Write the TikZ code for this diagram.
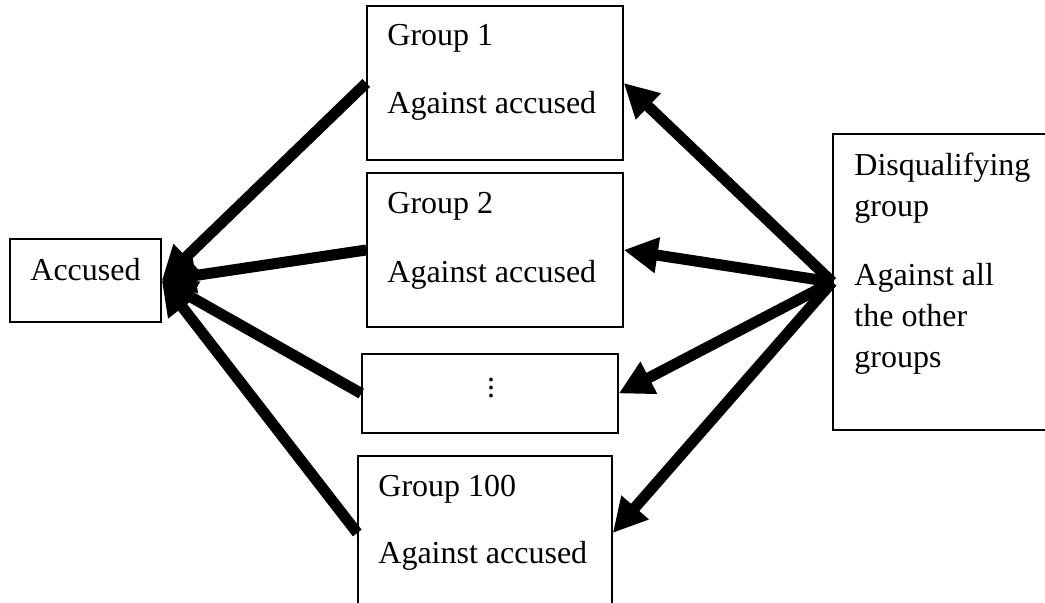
\documentclass[tikz,border=0pt]{standalone}
\usepackage{fontspec}
\setmainfont{Liberation Serif}
\usetikzlibrary{arrows.meta, positioning}

\begin{document}
\begin{tikzpicture}[
    x=0.5pt, y=-0.5pt,
    box/.style={rectangle, draw, line width=0.75pt, inner sep=0pt},
    grpbox/.style={box, minimum width=128pt, minimum height=77pt},
    txt/.style={inner sep=0pt, align=left, anchor=north west, font=\fontsize{16}{20.5}\selectfont},
    arrow/.style={line width=5.5pt, -{Triangle[length=17pt, width=17pt]}}
]
\useasboundingbox (0,0) rectangle (1045,603);

% ---------- boxes ----------
\node (accused) [box, minimum width=75.5pt, minimum height=41.5pt,
      text height=11pt, text depth=11pt, font=\fontsize{16}{20.5}\selectfont] at (85.5,280.5) {Accused};

\node (grpone) [grpbox] at (495,83) {};
\node (grptwo) [grpbox] at (495,250) {};
\node (grpdots) [box, minimum width=128pt, minimum height=39.5pt] at (490,393.5) {};
\node (grplast) [grpbox, minimum width=127pt] at (485,533) {};
\node (disq) [box, minimum width=108.5pt, minimum height=148pt] at (941.5,282) {};

% ---------- texts ----------
\node (grponetxt) [txt] at (387,24) {Group 1\\[13.5pt]Against accused};
\node (grptwotxt) [txt] at (387,192) {Group 2\\[14pt]Against accused};
\node (grplasttxt) [txt] at (378,475) {Group 100\\[13pt]Against accused};
\node (dots) [inner sep=0pt, font=\fontsize{16}{20.5}\selectfont] at (491,382) {$\vdots$};
\node (disqtxt) [txt] at (854,153) {Disqualifying\\group\\[14pt]Against all\\the other\\groups};

% ---------- arrows to accused ----------
\draw [arrow] (grpone.west) -- (accused.east);
\draw [arrow] (grptwo.west) -- (accused.east);
\draw [arrow] (grpdots.west) -- (accused.east);
\draw [arrow] (grplast.west) -- (accused.east);

% ---------- arrows from disqualifying group ----------
\draw [arrow] (disq.west) -- (grpone.east);
\draw [arrow] (disq.west) -- (grptwo.east);
\draw [arrow] (disq.west) -- (grpdots.east);
\draw [arrow] (disq.west) -- (grplast.east);

\end{tikzpicture}
\end{document}
